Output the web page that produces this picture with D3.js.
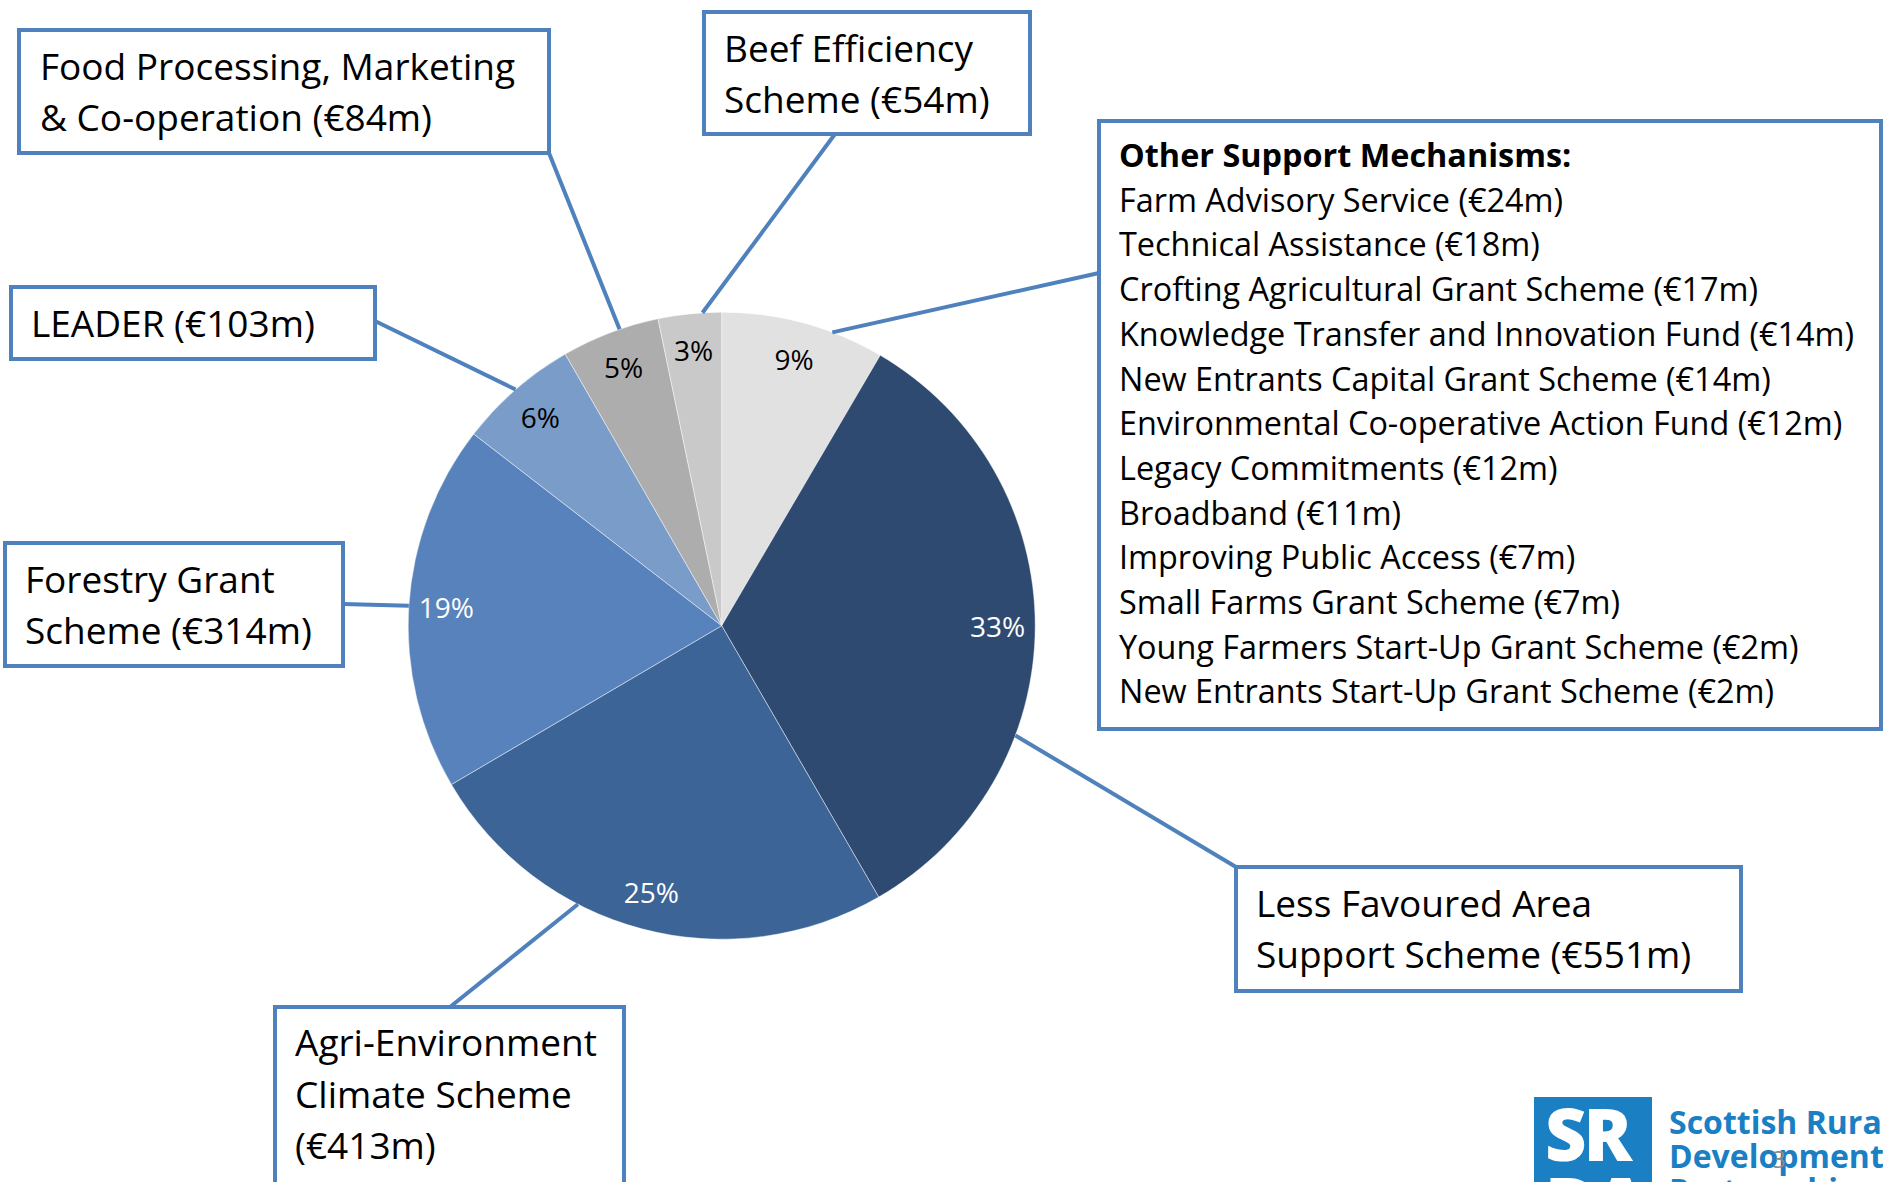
<!DOCTYPE html>
<html>
<head>
<meta charset="utf-8">
<script src="https://cdn.jsdelivr.net/npm/d3@7"></script>
<style>
  html, body { margin: 0; padding: 0; background: #fff; overflow: hidden; }
  svg { display: block; font-family: "Open Sans", "Noto Sans", sans-serif; }
</style>
</head>
<body>
<svg id="chart" width="1883" height="1182"></svg>
<script>
// ---------------- DATA ----------------
const categories = [
  "Other Support Mechanisms",
  "Less Favoured Area Support Scheme",
  "Agri-Environment Climate Scheme",
  "Forestry Grant Scheme",
  "LEADER",
  "Food Processing, Marketing & Co-operation",
  "Beef Efficiency Scheme"
];
const otherItems = [
  "Farm Advisory Service", "Technical Assistance", "Crofting Agricultural Grant Scheme",
  "Knowledge Transfer and Innovation Fund", "New Entrants Capital Grant Scheme",
  "Environmental Co-operative Action Fund", "Legacy Commitments", "Broadband",
  "Improving Public Access", "Small Farms Grant Scheme",
  "Young Farmers Start-Up Grant Scheme", "New Entrants Start-Up Grant Scheme"
];
const otherValues = [24, 18, 17, 14, 14, 12, 12, 11, 7, 7, 2, 2];
const mainValues = [551, 413, 314, 103, 84, 54];           // €m, categories[1..6]
const pctLabels = ["9%", "33%", "25%", "19%", "6%", "5%", "3%"];
const boxLines = [
  null,
  ["Less Favoured Area", "Support Scheme (€551m)"],
  ["Agri-Environment", "Climate Scheme", "(€413m)"],
  ["Forestry Grant", "Scheme (€314m)"],
  ["LEADER (€103m)"],
  ["Food Processing, Marketing", "& Co-operation (€84m)"],
  ["Beef Efficiency", "Scheme (€54m)"]
];

// ---------------- STYLE / LAYOUT ----------------
const colors = ["#e1e1e1", "#2e4a70", "#3c6496", "#5882bc", "#7a9cc9", "#adadad", "#c9c9c9"];
const labelColors = ["#000", "#fff", "#fff", "#fff", "#000", "#000", "#000"];
const blue = "#4f81bd";
const cx = 721.7, cy = 625.7, R = 313.5;

// box rectangles, text origin, line height, attach point on box, leader position within slice
const layout = [
  {box: [1099, 121, 1881, 729], tx: 1119, ty: 167, lh: 44.7, fs: 32.4, attach: [1099, 273], frac: 0.68},
  {box: [1236, 867, 1741, 991], tx: 1256, ty: 917, lh: 51, fs: 37, attach: [1236, 867], frac: 0.67},
  {box: [275, 1007, 624, 1210], tx: 295, ty: 1056, lh: 51.5, fs: 37, attach: [450, 1007], frac: 0.64},
  {box: [5, 543, 343, 666], tx: 25, ty: 593, lh: 51, fs: 37, attach: [343, 604], frac: 0.5},
  {box: [11, 287, 375, 359], tx: 31, ty: 337, lh: 51, fs: 37, attach: [375, 321], frac: 0.5},
  {box: [19, 30, 549, 153], tx: 40, ty: 80, lh: 50.5, fs: 37, attach: [549, 153], frac: 0.6},
  {box: [704, 12, 1030, 134], tx: 724, ty: 62, lh: 51, fs: 37, attach: [835, 134], frac: 0.7}
];

// ---------------- BUILD ----------------
const values = [d3.sum(otherValues), ...mainValues];
const data = categories.map((c, i) => ({cat: c, value: values[i], i}));

const svg = d3.select("#chart");
const pie = d3.pie().sort(null).value(d => d.value).startAngle(0).endAngle(2 * Math.PI);
const arcs = pie(data);
const arc = d3.arc().innerRadius(0).outerRadius(R);
const labelArc = d3.arc().innerRadius(R * 0.88).outerRadius(R * 0.88);

const g = svg.append("g").attr("transform", `translate(${cx},${cy})`);

// leader lines
const edgeAngle = d => d.startAngle + layout[d.data.i].frac * (d.endAngle - d.startAngle);
svg.append("g").selectAll("line").data(arcs).join("line")
  .attr("x1", d => layout[d.data.i].attach[0])
  .attr("y1", d => layout[d.data.i].attach[1])
  .attr("x2", d => cx + R * Math.sin(edgeAngle(d)))
  .attr("y2", d => cy - R * Math.cos(edgeAngle(d)))
  .attr("stroke", blue).attr("stroke-width", 4);

// slices
g.selectAll("path").data(arcs).join("path")
  .attr("d", arc)
  .attr("fill", d => colors[d.data.i])
  .attr("stroke", "#ffffff").attr("stroke-opacity", 0.45).attr("stroke-width", 1);

// percentage labels
g.selectAll("text.pct").data(arcs).join("text")
  .attr("class", "pct")
  .attr("transform", d => `translate(${labelArc.centroid(d)})`)
  .attr("text-anchor", "middle")
  .attr("dy", "0.36em")
  .attr("font-size", 28)
  .attr("fill", d => labelColors[d.data.i])
  .text(d => pctLabels[d.data.i]);

// callout boxes
const boxes = svg.append("g");
layout.forEach((L, i) => {
  const [x0, y0, x1, y1] = L.box;
  boxes.append("rect")
    .attr("x", x0).attr("y", y0).attr("width", x1 - x0).attr("height", y1 - y0)
    .attr("fill", "#fff").attr("stroke", blue).attr("stroke-width", 4);
  const lines = (i === 0)
    ? [categories[0] + ":"].concat(otherItems.map((t, k) => `${t} (€${otherValues[k]}m)`))
    : boxLines[i];
  const t = boxes.append("text").attr("font-size", L.fs).attr("fill", "#000");
  lines.forEach((ln, k) => {
    t.append("tspan").attr("x", L.tx).attr("y", L.ty + k * L.lh)
      .attr("font-weight", (i === 0 && k === 0) ? 700 : 400)
      .text(ln);
  });
});

// logo (bottom right, cropped by the page edge)
const logo = svg.append("g");
const logoBlue = "#1b7fc3";
logo.append("rect").attr("x", 1534).attr("y", 1097).attr("width", 118).attr("height", 110).attr("fill", logoBlue);
logo.append("text").attr("x", 1545).attr("y", 1161).attr("font-size", 72).attr("font-weight", 800)
  .attr("letter-spacing", -3).attr("fill", "#fff").text("SR");
logo.append("text").attr("x", 1545).attr("y", 1230).attr("font-size", 72).attr("font-weight", 800)
  .attr("letter-spacing", -3).attr("fill", "#fff").text("DA");
const logoText = logo.append("text").attr("font-size", 32).attr("font-weight", 700).attr("fill", logoBlue);
["Scottish Rural", "Development", "Partnership"].forEach((s, k) => {
  logoText.append("tspan").attr("x", 1669).attr("y", 1134 + k * 34).text(s);
});
logo.append("text").attr("x", 1772).attr("y", 1168).attr("font-size", 24).attr("fill", "#8a8a8a").text("3");
</script>
</body>
</html>
